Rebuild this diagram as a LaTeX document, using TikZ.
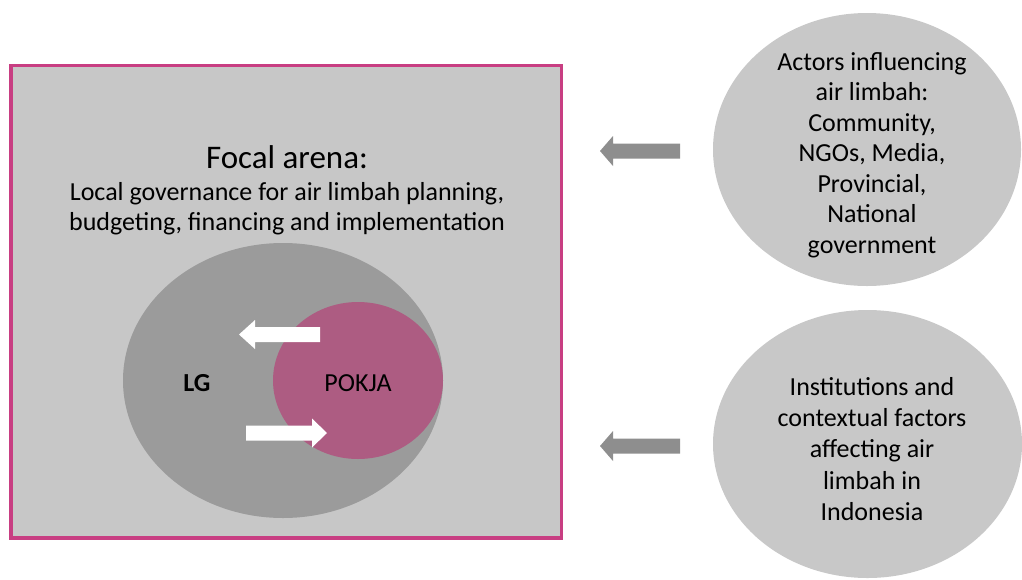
\documentclass[tikz,border=0pt]{standalone}
\usepackage{fontspec}
\setmainfont{Carlito}
\definecolor{panelgray}{HTML}{C7C7C7}
\definecolor{framepink}{HTML}{C83E82}
\definecolor{lggray}{HTML}{9B9B9B}
\definecolor{pokjapink}{HTML}{AD5C82}
\definecolor{arrowgray}{HTML}{8E8E8E}
\definecolor{actorgray}{HTML}{C8C8C8}
\begin{document}
\begin{tikzpicture}[x=1pt,y=-1pt,
  bubble/.style={fill=actorgray,draw=none},
  bubbletext/.style={align=center,inner sep=0pt},
  grayblock/.style={fill=arrowgray,draw=none},
  whiteblock/.style={fill=white,draw=none}]
\useasboundingbox (0,0) rectangle (1022,579);
% focal arena frame
\draw[fill=panelgray,draw=framepink,line width=3.5pt] (11,65.5) rectangle (561.5,538);
\node[inner sep=0pt,anchor=base,font=\fontsize{33}{38}\selectfont] (title) at (287,168) {Focal arena:};
\node[inner sep=0pt,anchor=base,font=\fontsize{26}{30}\selectfont] (sub1) at (287,200) {Local governance for air limbah planning,};
\node[inner sep=0pt,anchor=base,font=\fontsize{26}{30}\selectfont] (sub2) at (287,230) {budgeting, financing and implementation};
% LG and POKJA
\fill[lggray] (283,380.5) ellipse [x radius=160, y radius=137.5];
\fill[pokjapink] (358,380.5) ellipse [x radius=85, y radius=78.5];
\node[font=\fontsize{26}{30}\selectfont\bfseries,inner sep=0pt,anchor=base] (lg) at (197,391) {LG};
\node[font=\fontsize{26}{30}\selectfont,inner sep=0pt,anchor=base] (pokja) at (358,391) {POKJA};
% white block arrows
\fill[whiteblock] (239,334.5) -- (255,320) -- (255,327) -- (320,327) -- (320,342) -- (255,342) -- (255,349) -- cycle;
\fill[whiteblock] (327,433) -- (312,418.5) -- (312,425.5) -- (246,425.5) -- (246,440.5) -- (312,440.5) -- (312,447.5) -- cycle;
% right bubbles
\fill[bubble] (867,149.5) ellipse [x radius=154, y radius=136.5];
\fill[bubble] (867.5,444) ellipse [x radius=154.5, y radius=134];
\node[bubbletext,font=\fontsize{26}{30.5}\selectfont] (actors) at (872,155) {Actors influencing\\air limbah:\\Community,\\NGOs, Media,\\Provincial,\\National\\government};
\node[bubbletext,font=\fontsize{26}{31.25}\selectfont] (inst) at (872,449) {Institutions and\\contextual factors\\affecting air\\limbah in\\Indonesia};
% gray block arrows
\fill[grayblock] (600,151) -- (613,136) -- (613,143.5) -- (680,143.5) -- (680,158.5) -- (613,158.5) -- (613,166) -- cycle;
\fill[grayblock] (600,446) -- (613,431) -- (613,438.5) -- (680,438.5) -- (680,453.5) -- (613,453.5) -- (613,461) -- cycle;
\end{tikzpicture}
\end{document}
